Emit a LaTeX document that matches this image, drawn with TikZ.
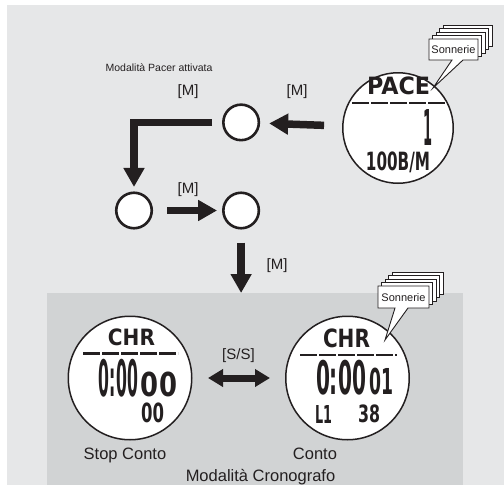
\documentclass[tikz,border=0pt]{standalone}
\usepackage{fontspec}
\setmainfont{Liberation Sans}
\newfontfamily\lcdfont{DejaVu Sans}
\usepackage{graphicx}
\usetikzlibrary{positioning,arrows.meta}
\definecolor{Back}{RGB}{230,231,232}
\definecolor{Panel}{RGB}{209,211,212}
\definecolor{Ink}{RGB}{35,31,32}
\newcommand\lcd[3]{\resizebox*{#1pt}{#2pt}{\lcdfont\bfseries #3}}

\begin{document}
\begin{tikzpicture}[x=1pt,y=-1pt,
 d/.style={circle,draw=Ink,fill=white,line width=1.5pt,minimum size=#1,inner sep=0pt},
 s/.style={circle,draw=Ink,fill=white,line width=2.6pt,minimum size=35.5pt,inner sep=0pt},
 a/.style={-{Triangle[length=19pt,width=20pt]},line width=7.5pt,Ink},
 aa/.style={{Triangle[length=15pt,width=17pt]}-{Triangle[length=15pt,width=17pt]},line width=7pt,Ink},
 l/.style={font=\fontsize{15}{15}\selectfont,text=Ink,inner sep=0pt,anchor=base},
 lb/.style={l,font=\fontsize{16.5}{16.5}\selectfont},
 t/.style={inner sep=0pt,text=Ink},
 u/.style={Ink,line width=2.6pt,dash pattern=on 17pt off 2pt},
 n/.style={draw=Ink,fill=white,line width=.9pt},
 so/.style={font=\fontsize{11}{11}\selectfont,text=Ink,inner sep=0pt}]
\useasboundingbox (0,0) rectangle (504,485);
\fill[Back] (7,5) rectangle (504,485);
\node[fill=Panel,minimum width=416pt,minimum height=192pt,anchor=north west,inner sep=0pt] (m) at (47,293) {};

% pacer
\node[d=110.5pt] (p) at (398,128) {};
\node[s] (c2) at (134,210.5) {};
\node[s,right=69pt of c2] (c3) {};
\node[s,above=50pt of c3] (c1) {};
\draw[a,shorten <=18pt,shorten >=9pt] (p)--(c1);
\draw[a,shorten <=10pt,shorten >=4.5pt] (c1)-|(c2);
\draw[a,shorten <=14pt,shorten >=5pt] (c2)--(c3);
\draw[a,shorten <=13pt] (c3)--(c3|-m.north);
\node[l,font=\fontsize{10.5}{10.5}\selectfont] (pm) at (159,71.5) {Modalità Pacer attivata};
\node[l] (m1) at (188,95) {[M]};
\node[l] (m2) at (297,95) {[M]};
\node[l] (m3) at (188,193) {[M]};
\node[l] (m4) at (277,269) {[M]};

% chrono
\node[d=123.5pt] (st) at (130,378) {};
\node[d=123.5pt,right=92.5pt of st] (ru) {};
\draw[aa,shorten <=15.5pt,shorten >=15pt] (st)--(ru);
\node[l] (ss) at (238.5,359) {[S/S]};
\node[lb] (sc) at (125,459) {Stop Conto};
\node[lb] (co) at (315,459) {Conto};
\node[lb] (mc) at (260.5,481.5) {Modalità Cronografo};

% sonnerie
\foreach \k in {4,3,2,1}
  \filldraw[n,shift={({3.5*\k},{-3.5*\k})}] (429,39) rectangle (478,60);
\filldraw[n] (429,39)--(478,39)--(478,60)--(463,60)--(433,88)--(452,60)--(429,60)--cycle;
\node[so] (s1) at (453.5,50) {Sonnerie};
\foreach \k in {4,3,2,1}
  \filldraw[n,shift={({3.5*\k},{-3.5*\k})}] (378,286) rectangle (429,308);
\filldraw[n] (378,286)--(429,286)--(429,308)--(408,308)--(385,340)--(395,308)--(378,308)--cycle;
\node[so] (s2) at (403.5,297.5) {Sonnerie};

% displays
\node[t] (pace) at (398.5,86) {\lcd{63}{18}{PACE}};
\draw[u] (352,103)--(447,103);
\node[t] (one) at (427.5,127) {\lcd{9}{36}{1}};
\node[t] (bpm) at (398,162.5) {\lcd{64}{21}{100B/M}};
\node[t] (chr1) at (131.5,337.5) {\lcd{47}{17}{CHR}};
\draw[u] (83,353.5)--(178,353.5);
\node[t] (tm1) at (118.5,378) {\lcd{39}{38}{0:00}};
\node[t] (hs1) at (159,384.5) {\lcd{36}{25}{00}};
\node[t] (lp1) at (152.5,413) {\lcd{23}{20}{00}};
\node[t] (chr2) at (346.5,338.5) {\lcd{47}{19}{CHR}};
\draw[u] (300,355)--(397,355);
\node[t] (tm2) at (341,377.5) {\lcd{50}{35}{0:00}};
\node[t] (hs2) at (381,381.5) {\lcd{24}{27}{01}};
\node[t] (lp2) at (323.5,414) {\lcd{17}{18}{L1}};
\node[t] (lt2) at (369,414) {\lcd{22}{18}{38}};
\end{tikzpicture}
\end{document}
